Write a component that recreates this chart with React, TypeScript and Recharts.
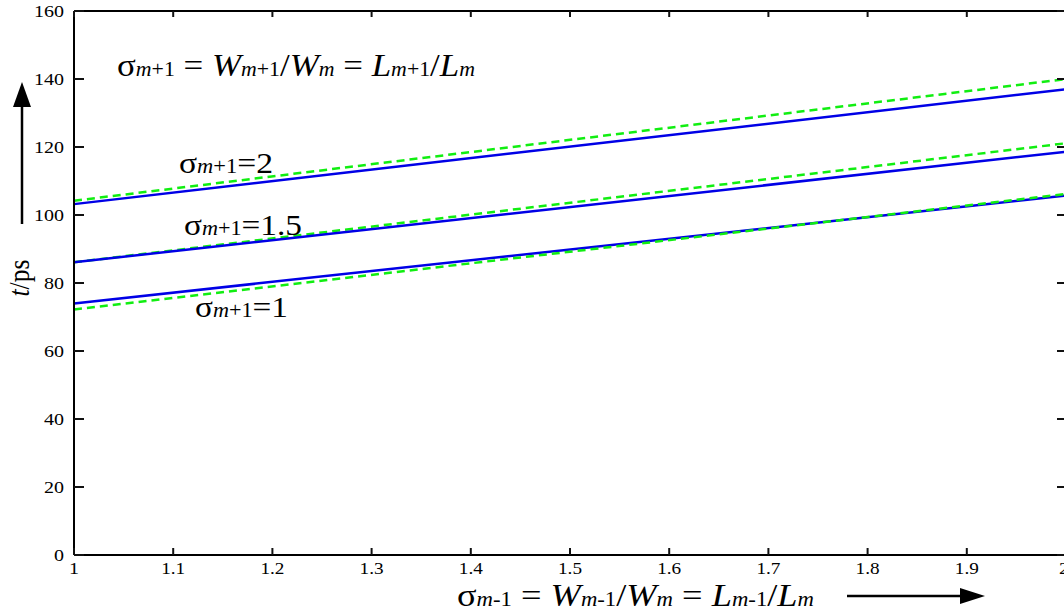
import React from 'react';
import { LineChart, Line, XAxis, YAxis } from 'recharts';

// sigma_{m-1} on the x axis, t in ps on the y axis
const sigmaPrev = [1, 2];
const blueSigma1 = [74.0, 105.7];
const greenSigma1 = [72.2, 106.2];
const blueSigma15 = [86.1, 118.6];
const greenSigma15 = [86.1, 121.1];
const blueSigma2 = [103.2, 137.0];
const greenSigma2 = [104.2, 140.0];

const xTicks = [1, 1.1, 1.2, 1.3, 1.4, 1.5, 1.6, 1.7, 1.8, 1.9, 2];
const yTicks = [0, 20, 40, 60, 80, 100, 120, 140, 160];

const data = sigmaPrev.map((x, i) => ({
  x,
  b1: blueSigma1[i],
  g1: greenSigma1[i],
  b15: blueSigma15[i],
  g15: greenSigma15[i],
  b2: blueSigma2[i],
  g2: greenSigma2[i],
}));

const SERIF = '"Liberation Serif", "Times New Roman", serif';
const BLUE = '#0000e6';
const GREEN = '#11ee11';
const TICK_STROKE = '#111';

// plot box, same as the chart margins below
const CHART_W = 1068;
const CHART_H = 614;
const MARGIN = { top: 10, right: 1, left: 73, bottom: 58 };
const PLOT_LEFT = MARGIN.left + 1;
const PLOT_RIGHT = CHART_W - MARGIN.right - 1;
const PLOT_TOP = MARGIN.top + 1;
const PLOT_BOTTOM = CHART_H - MARGIN.bottom - 1;
const X_DOMAIN = [1, 2];
const Y_DOMAIN = [0, 160];

const xPx = (v: number) => PLOT_LEFT + ((v - X_DOMAIN[0]) / (X_DOMAIN[1] - X_DOMAIN[0])) * (PLOT_RIGHT - PLOT_LEFT);
const yPx = (v: number) => PLOT_BOTTOM - ((v - Y_DOMAIN[0]) / (Y_DOMAIN[1] - Y_DOMAIN[0])) * (PLOT_BOTTOM - PLOT_TOP);

const labelWidth = (s: string) => s.split('').reduce((w, c) => w + (c === '.' ? 4 : 10), 0);

const LeftTick = (props: any) => {
  const label = String(props.payload.value);
  return (
    <text x={Number(props.x) - 10} y={props.y} dy="0.35em" textAnchor="end" fontSize={16} fontFamily={SERIF} fill="#000"
      textLength={labelWidth(label)} lengthAdjust="spacingAndGlyphs">{label}</text>
  );
};

const BottomTick = (props: any) => {
  const label = String(props.payload.value);
  return (
    <text x={props.x} y={Number(props.y) + 8} dy="0.71em" textAnchor="middle" fontSize={16} fontFamily={SERIF} fill="#000"
      textLength={labelWidth(label)} lengthAdjust="spacingAndGlyphs">{label}</text>
  );
};

const Sub = ({ children }: { children: React.ReactNode }) => (
  <tspan fontSize={20} fontStyle="italic">{children}</tspan>
);

const CurveLabel = ({ x, y, width, value }: { x: number; y: number; width: number; value: string }) => (
  <text x={x} y={y} fontSize={30} fontFamily={SERIF} fill="#000" textLength={width} lengthAdjust="spacingAndGlyphs">
    σ<tspan fontSize={20} fontStyle="italic">m</tspan><tspan fontSize={20}>+1</tspan>={value}
  </text>
);

// inward tick marks on all four sides of the frame
const TickMarks = () => (
  <g stroke={TICK_STROKE} strokeWidth={2}>
    {yTicks.map((v) => (
      <line key={`l${v}`} x1={PLOT_LEFT} y1={yPx(v)} x2={PLOT_LEFT + 10} y2={yPx(v)} />
    ))}
    {yTicks.map((v) => (
      <line key={`r${v}`} x1={PLOT_RIGHT - 9} y1={yPx(v)} x2={PLOT_RIGHT} y2={yPx(v)} />
    ))}
    {xTicks.map((v) => (
      <line key={`b${v}`} x1={xPx(v)} y1={PLOT_BOTTOM} x2={xPx(v)} y2={PLOT_BOTTOM - 7} />
    ))}
    {xTicks.map((v) => (
      <line key={`t${v}`} x1={xPx(v)} y1={PLOT_TOP} x2={xPx(v)} y2={PLOT_TOP + 6} />
    ))}
  </g>
);

const Annotations = () => (
  <svg width={1064} height={614} style={{ position: 'absolute', left: 0, top: 0, pointerEvents: 'none' }}>
    <TickMarks />
    <text x={117} y={76} fontSize={32} fontFamily={SERIF} fill="#000" textLength={358} lengthAdjust="spacingAndGlyphs">
      σ<Sub>m</Sub><tspan fontSize={20}>+1</tspan> = <tspan fontStyle="italic">W</tspan><Sub>m</Sub><tspan fontSize={20}>+1</tspan>/<tspan fontStyle="italic">W</tspan><Sub>m</Sub> = <tspan fontStyle="italic">L</tspan><Sub>m</Sub><tspan fontSize={20}>+1</tspan>/<tspan fontStyle="italic">L</tspan><Sub>m</Sub>
    </text>
    <text x={457} y={606} fontSize={32} fontFamily={SERIF} fill="#000" textLength={357} lengthAdjust="spacingAndGlyphs">
      σ<Sub>m</Sub><tspan fontSize={20}>-1</tspan> = <tspan fontStyle="italic">W</tspan><Sub>m</Sub><tspan fontSize={20}>-1</tspan>/<tspan fontStyle="italic">W</tspan><Sub>m</Sub> = <tspan fontStyle="italic">L</tspan><Sub>m</Sub><tspan fontSize={20}>-1</tspan>/<tspan fontStyle="italic">L</tspan><Sub>m</Sub>
    </text>
    <CurveLabel x={179} y={173} width={94} value="2" />
    <CurveLabel x={184} y={235} width={118} value="1.5" />
    <CurveLabel x={195} y={317} width={93} value="1" />
    <text transform="translate(29, 278) rotate(-90)" textAnchor="middle" fontSize={30} fontFamily={SERIF} fill="#000"
      textLength={37} lengthAdjust="spacingAndGlyphs">
      <tspan fontStyle="italic">t</tspan>/ps
    </text>
    <line x1={22} y1={224} x2={22} y2={104} stroke="#000" strokeWidth={2.5} />
    <polygon points="22,82 13,107 31,107" fill="#000" />
    <line x1={847} y1={596} x2={962} y2={596} stroke="#000" strokeWidth={2.5} />
    <polygon points="985,596 960,588 960,604" fill="#000" />
  </svg>
);

const axisLine = { stroke: '#000', strokeWidth: 2 };

export default function App() {
  return (
    <div style={{ position: 'absolute', left: 0, top: 0, width: 1064, height: 614, overflow: 'hidden', background: '#fff' }}>
      <LineChart width={CHART_W} height={CHART_H} data={data} margin={MARGIN}>
        <XAxis dataKey="x" type="number" domain={X_DOMAIN} ticks={xTicks} height={1}
          axisLine={axisLine} tickLine={false} tickSize={0} tickMargin={0} tick={<BottomTick />} />
        <XAxis xAxisId="top" orientation="top" dataKey="x" type="number" domain={X_DOMAIN} ticks={xTicks} height={1}
          axisLine={axisLine} tickLine={false} tick={false} />
        <YAxis type="number" domain={Y_DOMAIN} ticks={yTicks} width={1}
          axisLine={axisLine} tickLine={false} tickSize={0} tickMargin={0} tick={<LeftTick />} />
        <YAxis yAxisId="right" orientation="right" type="number" domain={Y_DOMAIN} ticks={yTicks} width={1}
          axisLine={axisLine} tickLine={false} tick={false} />
        <Line dataKey="g2" stroke={GREEN} strokeWidth={2.5} strokeDasharray="8 5" dot={false} isAnimationActive={false} />
        <Line dataKey="b2" stroke={BLUE} strokeWidth={2.5} dot={false} isAnimationActive={false} />
        <Line dataKey="g15" stroke={GREEN} strokeWidth={2.5} strokeDasharray="8 5" dot={false} isAnimationActive={false} />
        <Line dataKey="b15" stroke={BLUE} strokeWidth={2.5} dot={false} isAnimationActive={false} />
        <Line dataKey="b1" stroke={BLUE} strokeWidth={2.5} dot={false} isAnimationActive={false} />
        <Line dataKey="g1" stroke={GREEN} strokeWidth={2.5} strokeDasharray="8 5" dot={false} isAnimationActive={false} />
      </LineChart>
      <Annotations />
    </div>
  );
}
